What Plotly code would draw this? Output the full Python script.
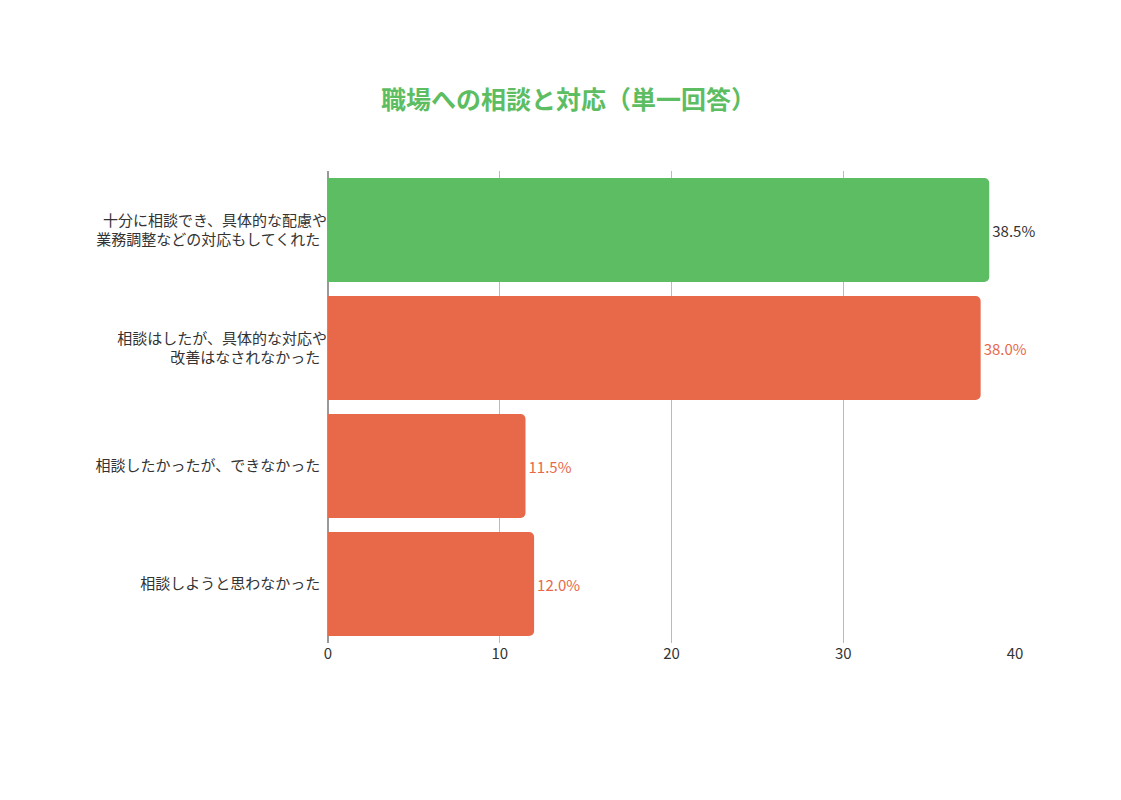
import plotly.graph_objects as go

categories = ["十分に相談でき、具体的な配慮や<br>業務調整などの対応もしてくれた",
              "相談はしたが、具体的な対応や<br>改善はなされなかった",
              "相談したかったが、できなかった",
              "相談しようと思わなかった"]
values = [38.5, 38.0, 11.5, 12.0]
labels = ["38.5%", "38.0%", "11.5%", "12.0%"]
colors = ["#5DBD62", "#E8694A", "#E8694A", "#E8694A"]
label_colors = ["#333333", "#E8694A", "#E8694A", "#E8694A"]

fig = go.Figure(go.Bar(
    y=categories, x=values, orientation="h",
    marker=dict(color=colors, line=dict(width=0)),
    text=labels, textposition="outside",
    textfont=dict(color=label_colors, size=15),
    cliponaxis=False, hoverinfo="skip"))

fig.update_layout(
    width=1121, height=800,
    paper_bgcolor="white", plot_bgcolor="white",
    font=dict(family="Noto Sans CJK JP", size=15, color="#333333"),
    title=dict(text="<b>職場への相談と対応（単一回答）</b>", x=0.5, xanchor="center",
               y=0.885, yanchor="middle", font=dict(size=25, color="#5DBD62")),
    margin=dict(l=320, r=114, t=163, b=165),
    bargap=0.12, barcornerradius=5, showlegend=False,
    xaxis=dict(range=[0, 40], dtick=10, showgrid=True, gridcolor="#BBBBBB",
               zeroline=True, zerolinecolor="#999999", ticks="", tickfont=dict(size=15)),
    yaxis=dict(autorange="reversed", ticks="", ticksuffix="  ", tickfont=dict(size=15)),
)
fig.write_html("out.html")
